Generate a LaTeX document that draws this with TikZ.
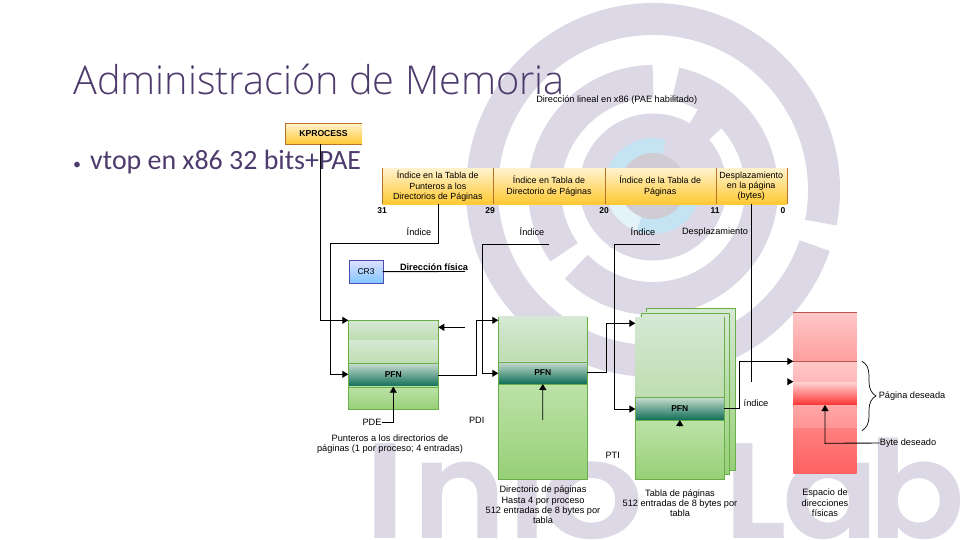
\documentclass[tikz,border=0pt]{standalone}
\usepackage{fontspec}
\setmainfont{Liberation Sans}
\newfontfamily\titlefont{Open Sans Light}
\newfontfamily\bodyfont{Carlito}
\newfontfamily\wmfont{Poppins SemiBold}
\usetikzlibrary{arrows.meta,decorations.pathreplacing}
\definecolor{wmgray}{HTML}{DDD8E5}
\definecolor{wmblue}{HTML}{C4E4F4}
\definecolor{wmpale}{HTML}{E4F2FA}
\definecolor{wmcore}{HTML}{CFCDD3}
\definecolor{ink}{HTML}{4C3B6C}
\definecolor{edgeorange}{HTML}{B9722A}
\definecolor{edgegreen}{HTML}{6AAE4A}
\definecolor{edgered}{HTML}{B85450}
\definecolor{orangeA}{HTML}{FFF2CC}
\definecolor{orangeB}{HTML}{FFC933}
\definecolor{greenA}{HTML}{D5E8D4}
\definecolor{greenB}{HTML}{BEDDB0}
\definecolor{greenC}{HTML}{BCE2A8}
\definecolor{greenD}{HTML}{97D077}
\definecolor{tealA}{HTML}{C8DCD0}
\definecolor{tealB}{HTML}{0E6E56}
\tikzset{
  wmarc/.style  = {wmgray, line cap=butt},
  letter/.style = {font=\wmfont\fontsize{136}{136}\selectfont, text=wmgray, inner sep=0, anchor=base west},
  addr/.style   = {rectangle, top color=orangeA, bottom color=orangeB, inner sep=0, outer sep=0, anchor=north west, align=center, font=\fontsize{8.9}{10.2}\selectfont},
  rowg/.style   = {rectangle, inner sep=0, outer sep=0, anchor=north west},
  glight/.style = {rowg, top color=greenA, bottom color=greenB},
  gdark/.style  = {rowg, top color=greenC, bottom color=greenD},
  pfn/.style    = {rowg, top color=tealA, bottom color=tealB, font=\bfseries\fontsize{8.5}{10}\selectfont},
  et/.style     = {font=\fontsize{9.2}{10.3}\selectfont, align=center, inner sep=0},
  lnk/.style    = {line width=0.9pt},
  arr/.style    = {line width=0.9pt, -{Triangle[length=6pt,width=7pt]}}
}
\begin{document}
\begin{tikzpicture}[x=1pt,y=-1pt]
  \useasboundingbox (0,0) rectangle (960,540);
  \clip (0,0) rectangle (960,540);
  % watermark
  \coordinate (c) at (653,190);
  \begin{scope}[shift={(c)},x=1pt,y=1pt]
    \draw[wmarc,line width=32pt] (-11:171) arc[start angle=-11,end angle=341,radius=171pt];
    \draw[wmarc,line width=33pt] (90:108.5) arc[start angle=90,end angle=215,radius=108.5pt];
    \draw[wmarc,line width=33pt] (225:108.5) arc[start angle=225,end angle=438,radius=108.5pt];
    \draw[wmarc,line width=24pt] (42:82) arc[start angle=42,end angle=61,radius=82pt];
    \fill[wmgray] (0,3) circle[radius=73.5pt];
    \begin{scope}[yshift=4pt]
      \draw[wmblue,line width=16pt,line cap=butt] (74:40) arc[start angle=74,end angle=175,radius=40pt];
      \draw[wmpale,line width=16pt,line cap=butt] (175:40) arc[start angle=175,end angle=250,radius=40pt];
      \draw[wmblue,line width=16pt,line cap=butt] (250:40) arc[start angle=250,end angle=345,radius=40pt];
      \fill[wmcore] (0,0) circle[radius=33pt];
    \end{scope}
  \end{scope}
  \foreach \ch/\px/\sx in {I/364/1.1,n/412/1.05,f/506/1,o/540/1.2,L/724/1,a/782/1.05,b/868/1.05}{
    \node[letter,xscale=\sx] at (\px,538) {\ch};
  }
  % title
  \node[anchor=base west,inner sep=0,text=ink,font=\titlefont\fontsize{39.7}{42}\selectfont] (title) at (73,95) {Administración de Memoria};
  \node[anchor=base west,inner sep=0,text=ink,font=\bodyfont\fontsize{27.9}{30}\selectfont] (bullet) at (73,170) {{\fontsize{16}{16}\selectfont •}\hspace{9pt}vtop en x86 32 bits+PAE};
  % top address bar
  \node[et] (dirl) at (616.7,100) {Dirección lineal en x86 (PAE habilitado)};
  \node[addr,minimum width=77pt,minimum height=21pt,font=\bfseries\fontsize{8.6}{10}\selectfont] (kpro) at (285,123.3) {KPROCESS};
  \draw[edgeorange] (kpro.north east)--(kpro.north west)--(kpro.south west)--(kpro.south east);
  \node[addr,minimum width=111pt,minimum height=35.7pt] (cA) at (382.3,168.3) {Índice en la Tabla de\\Punteros a los\\Directorios de Páginas};
  \node[addr,minimum width=111.4pt,minimum height=35.7pt] (cB) at (493.3,168.3) {Índice en Tabla de\\Directorio de Páginas};
  \node[addr,minimum width=111pt,minimum height=35.7pt] (cC) at (604.7,168.3) {Índice de la Tabla de\\Páginas};
  \node[addr,minimum width=71pt,minimum height=35.7pt] (cD) at (715.7,168.3) {Desplazamiento\\en la página\\(bytes)};
  \draw[edgeorange] (cA.north west)--(cA.south west) (cB.north west)--(cB.south west) (cC.north west)--(cC.south west) (cD.north west)--(cD.south west) (cD.north east)--(cD.south east);
  \foreach \num/\px in {31/382,29/490,20/604,11/715,0/783}{
    \node[et,font=\bfseries\fontsize{8.5}{10}\selectfont] at (\px,211) {\num};
  }
  \node[et] (iA) at (419,232) {Índice};
  \node[et] (iB) at (532,232) {Índice};
  \node[et] (iC) at (643,232) {Índice};
  \node[et] (iD) at (715,232) {Desplazamiento};
  % CR3
  \node[rowg,draw=blue!40!gray,top color=blue!12,bottom color=blue!45!cyan!50,minimum width=33.4pt,minimum height=23.3pt,font=\fontsize{8.5}{10}\selectfont] (cr) at (349.3,260) {CR3};
  \node[et] (fis) at (434,267) {\bfseries Dirección física};
  \coordinate (crE) at (465,271.5); \draw[lnk] (cr.east)--(crE);
  % punteros a directorios
  \node[glight,minimum width=90pt,minimum height=20pt] (pA) at (348.3,320.3) {};
  \node[glight,minimum width=90pt,minimum height=23pt] (oA) at (348.3,340.3) {};
  \node[pfn,minimum width=90pt,minimum height=23.4pt] (pfnA) at (348.3,363.3) {PFN};
  \node[gdark,minimum width=90pt,minimum height=22.6pt] (qA) at (348.3,386.7) {};
  \draw[edgegreen] (pA.north west) rectangle (qA.south east);
  \draw[edgegreen] (pfnA.north west)--(pfnA.north east) (pfnA.south west)--(pfnA.south east);
  \node[et] (pde) at (372,422) {PDE};
  \node[et] (capA) at (390,444) {Punteros a los directorios de\\páginas (1 por proceso; 4 entradas)};
  % directorio de paginas
  \node[glight,minimum width=89pt,minimum height=45pt] (pB) at (498.3,316.7) {};
  \node[pfn,minimum width=89pt,minimum height=22.3pt] (pfnB) at (498.3,361.7) {PFN};
  \node[gdark,minimum width=89pt,minimum height=94.7pt] (qB) at (498.3,384) {};
  \draw[edgegreen] (pB.north west)--(qB.south west)--(qB.south east)--(pB.north east);
  \draw[edgegreen] (pfnB.north west)--(pfnB.north east) (pfnB.south west)--(pfnB.south east);
  \node[et] (pdi) at (476.7,420) {PDI};
  \node[et] (capB) at (543,505) {Directorio de páginas\\Hasta 4 por proceso\\512 entradas de 8 bytes por\\tabla};
  % tabla de paginas
  \node[rowg,draw=edgegreen,minimum width=88.7pt,minimum height=161.7pt,top color=greenA,bottom color=greenD] (bk) at (646,308.3) {};
  \node[rowg,draw=edgegreen,minimum width=88.6pt,minimum height=161.6pt,top color=greenA,bottom color=greenD] (md) at (640.7,312.7) {};
  \node[glight,minimum width=89pt,minimum height=80pt] (pC) at (635.3,317.3) {};
  \node[pfn,minimum width=89pt,minimum height=22.7pt] (pfnC) at (635.3,397.3) {PFN};
  \node[gdark,minimum width=89pt,minimum height=58.7pt] (qC) at (635.3,420) {};
  \draw[edgegreen] (pC.north east)--(qC.south east)--(qC.south west)--(pfnC.north west);
  \draw[edgegreen] (pfnC.north west)--(pfnC.north east) (pfnC.south west)--(pfnC.south east);
  \node[et] (pti) at (612.7,455.7) {PTI};
  \node[et] (capC) at (680,503) {Tabla de páginas\\512 entradas de 8 bytes por\\tabla};
  % espacio fisico
  \node[rowg,minimum width=63.4pt,minimum height=49pt,top color=red!22!white,bottom color=red!38!white] (rA) at (793.3,312.3) {};
  \node[rowg,minimum width=63.4pt,minimum height=21pt,top color=red!22!white,bottom color=red!28!white] (rB) at (793.3,361.3) {};
  \node[rowg,minimum width=63.4pt,minimum height=22.7pt,top color=red!18!white,bottom color=red!80!white] (rC) at (793.3,382.3) {};
  \node[rowg,minimum width=63.4pt,minimum height=23.3pt,top color=red!35!white,bottom color=red!42!white] (rD) at (793.3,405) {};
  \node[rowg,minimum width=63.4pt,minimum height=45.4pt,top color=red!50!white,bottom color=red!62!white] (rE) at (793.3,428.3) {};
  \draw[edgered] (rA.north west)--(rA.north east) (rB.north west)--(rB.north east);
  \node[et] (capD) at (825,503) {Espacio de\\direcciones\\físicas};
  \node[et] (pag) at (912,396) {Página deseada};
  \node[et] (byt) at (908,443) {Byte deseado};
  \node[et] (idx) at (756,403.3) {índice};
  % conexiones
  \coordinate (kE) at (320.5,144.3); \coordinate (kT) at (348.3,320.3);
  \draw[arr] (kE)|-(kT);
  \coordinate (aS) at (438,204); \coordinate (aL) at (330,243.3); \coordinate (aT) at (348.3,374.3);
  \draw[arr] (aS)|-(aL)|-(aT);
  \coordinate (rtS) at (465,327.3); \coordinate (rtE) at (438.3,327.3); \draw[arr] (rtS)--(rtE);
  \coordinate (bK) at (476,320.3); \coordinate (bT) at (498.3,320.3);
  \draw[arr] (pfnA.east)-|(bK)--(bT);
  \draw[arr] (pde.east)-|(pfnA.south);
  \coordinate (iS) at (549,244.3); \coordinate (iL) at (482.7,244.3); \coordinate (iT) at (498.3,373.3);
  \draw[arr] (iS)--(iL)|-(iT);
  \coordinate (pdiS) at (542.7,420); \draw[arr] (pdiS)--(pfnB.south);
  \coordinate (dK) at (606,323.3); \coordinate (dT) at (635.3,323.3);
  \draw[arr] (pfnB.east)-|(dK)--(dT);
  \coordinate (jS) at (660,244.3); \coordinate (jL) at (614.3,244.3); \coordinate (jT) at (635.3,409);
  \draw[arr] (jS)--(jL)|-(jT);
  \coordinate (ptiS) at (679.7,426.5); \draw[arr] (ptiS)--(pfnC.south);
  \coordinate (gK) at (739.3,361.3); \coordinate (gT) at (793.3,361.3);
  \draw[arr] (pfnC.east)-|(gK)--(gT);
  \coordinate (desS) at (751.3,204); \coordinate (desE) at (751.3,381.7); \draw[lnk] (desS)--(desE);
  \coordinate (stS) at (788,381.7); \coordinate (stE) at (793.3,381.7); \draw[arr] (stS)--(stE);
  \coordinate (byK) at (825,443.3); \coordinate (byT) at (825,405);
  \draw[arr] (byt.west)--(byK)--(byT);
  \coordinate (brA) at (862,361.3); \coordinate (brB) at (862,430.5);
  \draw[line width=0.7pt,decorate,decoration={brace,amplitude=14pt}] (brA)--(brB);
\end{tikzpicture}
\end{document}
